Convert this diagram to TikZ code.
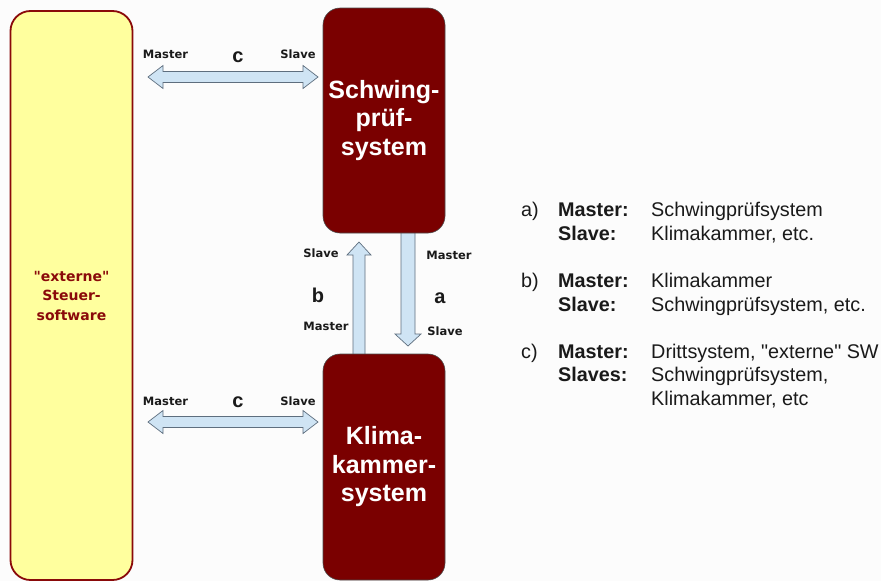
\documentclass[tikz,border=0pt]{standalone}
\usepackage{fontspec}
\setmainfont{Liberation Sans}[Ligatures=TeXOff]
\newfontfamily\verd{DejaVu Sans}
\usetikzlibrary{calc}
\definecolor{maroonbox}{HTML}{7A0000}
\definecolor{yelbox}{HTML}{FFFF9E}
\definecolor{yelborder}{HTML}{8A0A0A}
\definecolor{arrowfill}{HTML}{CFE4F4}
\definecolor{arrowline}{HTML}{5E6E7E}
\definecolor{labtext}{HTML}{1A1A1A}
\begin{document}
\begin{tikzpicture}[x=1pt,y=-1pt,
  sysbox/.style={draw=black!70,line width=0.6pt,fill=maroonbox,rounded corners=17pt,
    minimum width=122pt,text=white,font=\fontsize{25}{28.5}\selectfont\bfseries,align=center,inner sep=0pt},
  extbox/.style={draw=yelborder,line width=1.8pt,fill=yelbox,rounded corners=20pt,
    minimum width=122pt,minimum height=569pt,text=yelborder,
    font=\verd\fontsize{14}{19.5}\selectfont\bfseries,align=center,inner sep=0pt},
  fat/.style={draw=arrowline,line width=0.7pt,fill=arrowfill,line join=miter},
  lab/.style={font=\verd\fontsize{11.5}{13}\selectfont\bfseries,text=labtext,inner sep=0pt,text depth=0pt},
  letter/.style={font=\fontsize{20}{22}\selectfont\bfseries,text=labtext,inner sep=0pt,text depth=0pt},
  txt/.style={font=\fontsize{19.8}{22}\selectfont,text=labtext,anchor=base west,inner sep=0pt},
  txtb/.style={txt,font=\fontsize{19.8}{22}\selectfont\bfseries}]
\useasboundingbox (0,0) rectangle (881,581);
\fill[white!99!black] (0,0) rectangle (881,581);

% fat arrows (drawn first, boxes on top)
\newcommand\fatH[2]{\draw[fat] (#1) -- ($(#1)+(15,-11.5)$) -- ($(#1)+(15,-5.5)$) -- ($(#2)+(-15,-5.5)$) -- ($(#2)+(-15,-11.5)$) -- (#2) -- ($(#2)+(-15,11.5)$) -- ($(#2)+(-15,5.5)$) -- ($(#1)+(15,5.5)$) -- ($(#1)+(15,11.5)$) -- cycle;}
\coordinate (c1l) at (148,77);
\coordinate (c1r) at (318,77);
\coordinate (c2l) at (148,422);
\coordinate (c2r) at (318,422);
\fatH{c1l}{c1r}
\fatH{c2l}{c2r}

% b: up arrow (Klima -> Schwing)
\coordinate (bbase) at (359,357);
\coordinate (btip) at (359,242);
\draw[fat] ($(bbase)+(-6,0)$) -- ($(btip)+(-6,13)$) -- ($(btip)+(-12,13)$) -- (btip) -- ($(btip)+(12,13)$) -- ($(btip)+(6,13)$) -- ($(bbase)+(6,0)$) -- cycle;
% a: down arrow (Schwing -> Klima)
\coordinate (abase) at (408,230);
\coordinate (atip) at (408,346);
\draw[fat] ($(abase)+(-7,0)$) -- ($(atip)+(-7,-12)$) -- ($(atip)+(-13,-12)$) -- (atip) -- ($(atip)+(13,-12)$) -- ($(atip)+(7,-12)$) -- ($(abase)+(7,0)$) -- cycle;

% boxes
\node[extbox] (ext) at (71.5,295.5) {"externe"\\Steuer-\\software};
\node[sysbox,minimum height=225pt] (sch) at (384,120.5) {Schwing-\\prüf-\\system};
\node[sysbox,minimum height=226pt] (kli) at (384,467) {Klima-\\kammer-\\system};

% labels upper c
\node[lab] (m1) at (165.5,54) {Master};
\node[letter] (lc1) at (238,57) {c};
\node[lab] (s1) at (298,54) {Slave};
% labels lower c
\node[lab] (m2) at (165.5,401) {Master};
\node[letter] (lc2) at (238,402) {c};
\node[lab] (s2) at (298,401) {Slave};
% labels b
\node[lab] (sb) at (321,253) {Slave};
\node[letter] (lb) at (318,295) {b};
\node[lab] (mb) at (326,326) {Master};
% labels a
\node[lab] (ma) at (449,255) {Master};
\node[letter] (la) at (440,298) {a};
\node[lab] (sa) at (445,331) {Slave};

% legend
\node[txt] (ta) at (521,216) {a)};
\node[txtb] (ta1) at (558,216) {Master:};
\node[txt] (ta1v) at (651,216) {Schwingprüfsystem};
\node[txtb] (ta2) at (558,240) {Slave:};
\node[txt] (ta2v) at (651,240) {Klimakammer, etc.};

\node[txt] (tb) at (521,287) {b)};
\node[txtb] (tb1) at (558,287) {Master:};
\node[txt] (tb1v) at (651,287) {Klimakammer};
\node[txtb] (tb2) at (558,311) {Slave:};
\node[txt] (tb2v) at (651,311) {Schwingprüfsystem, etc.};

\node[txt] (tc) at (521,358) {c)};
\node[txtb] (tc1) at (558,358) {Master:};
\node[txt] (tc1v) at (651,358) {Drittsystem, "externe" SW};
\node[txtb] (tc2) at (558,381) {Slaves:};
\node[txt] (tc2v) at (651,381) {Schwingprüfsystem,};
\node[txt] (tc3v) at (651,405) {Klimakammer, etc};
\end{tikzpicture}
\end{document}
